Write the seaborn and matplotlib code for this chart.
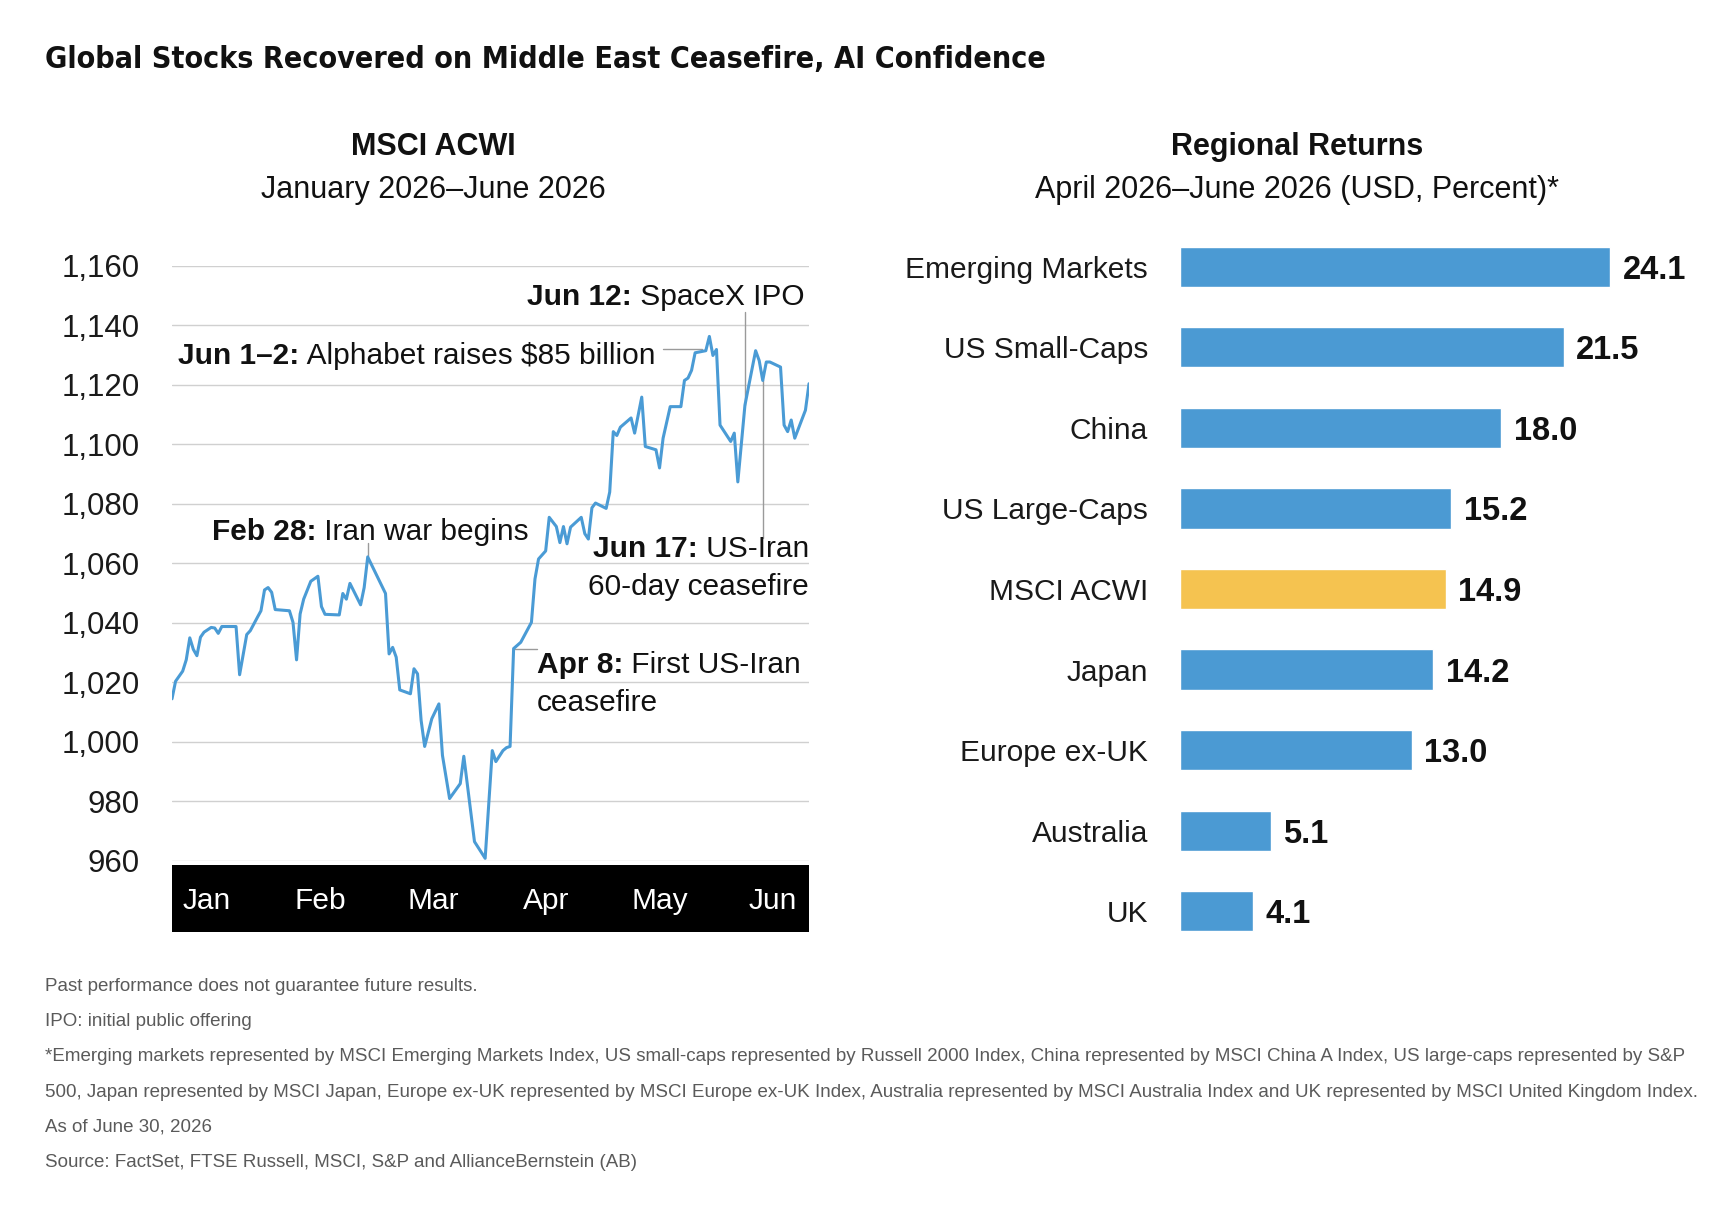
import matplotlib
matplotlib.use("Agg")
import matplotlib.pyplot as plt
from matplotlib import font_manager as fm
import seaborn as sns
import pandas as pd

# ---------------- data ----------------
title = "Global Stocks Recovered on Middle East Ceasefire, AI Confidence"

acwi_dates = [
    "2026-01-02", "2026-01-03", "2026-01-05", "2026-01-06", "2026-01-07", "2026-01-08",
    "2026-01-09", "2026-01-10", "2026-01-11", "2026-01-13", "2026-01-14", "2026-01-15",
    "2026-01-16", "2026-01-20", "2026-01-21", "2026-01-23", "2026-01-24", "2026-01-26",
    "2026-01-27", "2026-01-28", "2026-01-29", "2026-01-30", "2026-01-31", "2026-02-04",
    "2026-02-05", "2026-02-06", "2026-02-07", "2026-02-08", "2026-02-10", "2026-02-12",
    "2026-02-13", "2026-02-14", "2026-02-18", "2026-02-19", "2026-02-20", "2026-02-21",
    "2026-02-24", "2026-02-25", "2026-02-26", "2026-03-03", "2026-03-04", "2026-03-05",
    "2026-03-06", "2026-03-07", "2026-03-10", "2026-03-11", "2026-03-12", "2026-03-13",
    "2026-03-14", "2026-03-16", "2026-03-18", "2026-03-19", "2026-03-21", "2026-03-24",
    "2026-03-25", "2026-03-28", "2026-03-31", "2026-04-02", "2026-04-03", "2026-04-05",
    "2026-04-06", "2026-04-07", "2026-04-08", "2026-04-10", "2026-04-13", "2026-04-14",
    "2026-04-15", "2026-04-17", "2026-04-18", "2026-04-20", "2026-04-21", "2026-04-22",
    "2026-04-23", "2026-04-24", "2026-04-27", "2026-04-28", "2026-04-29", "2026-04-30",
    "2026-05-01", "2026-05-04", "2026-05-05", "2026-05-06", "2026-05-07", "2026-05-08",
    "2026-05-11", "2026-05-12", "2026-05-14", "2026-05-15", "2026-05-18", "2026-05-19",
    "2026-05-20", "2026-05-22", "2026-05-25", "2026-05-26", "2026-05-27", "2026-05-28",
    "2026-05-29", "2026-06-01", "2026-06-02", "2026-06-03", "2026-06-04", "2026-06-05",
    "2026-06-08", "2026-06-09", "2026-06-10", "2026-06-12", "2026-06-15", "2026-06-16",
    "2026-06-17", "2026-06-18", "2026-06-19", "2026-06-22", "2026-06-23", "2026-06-24",
    "2026-06-25", "2026-06-26", "2026-06-29", "2026-06-30",
]
acwi_values = [
    1014.4, 1020.3, 1023.7, 1027.5, 1034.9, 1031.0,
    1028.9, 1035.1, 1036.8, 1038.4, 1038.2, 1036.4,
    1038.7, 1038.7, 1022.5, 1036.0, 1037.3, 1041.8,
    1044.0, 1051.0, 1051.8, 1050.2, 1044.4, 1044.0,
    1040.1, 1027.5, 1042.9, 1047.9, 1053.9, 1055.6,
    1045.4, 1042.8, 1042.6, 1049.8, 1047.9, 1053.2,
    1046.0, 1051.8, 1062.1, 1049.8, 1029.5, 1031.7,
    1028.4, 1017.4, 1016.1, 1024.5, 1022.8, 1007.2,
    998.4, 1007.7, 1012.7, 995.4, 980.9, 985.9,
    995.1, 966.4, 960.8, 997.0, 993.3, 997.0,
    998.0, 998.4, 1031.3, 1033.4, 1040.1, 1054.7,
    1061.4, 1064.1, 1075.4, 1072.3, 1066.9, 1072.3,
    1066.5, 1072.1, 1075.4, 1069.9, 1068.1, 1078.6,
    1080.2, 1078.4, 1083.9, 1104.2, 1102.9, 1105.7,
    1108.8, 1103.7, 1115.8, 1099.2, 1098.1, 1092.0,
    1102.0, 1112.6, 1112.6, 1121.4, 1122.2, 1124.8,
    1130.7, 1131.4, 1136.2, 1129.8, 1131.8, 1106.4,
    1100.9, 1103.7, 1087.3, 1113.1, 1131.4, 1128.1,
    1121.4, 1127.6, 1127.6, 1125.9, 1106.4, 1104.2,
    1108.1, 1102.0, 1111.4, 1120.3,
]
y_ticks = [960, 980, 1000, 1020, 1040, 1060, 1080, 1100, 1120, 1140, 1160]
months = ["Jan", "Feb", "Mar", "Apr", "May", "Jun"]

regions = ["Emerging Markets", "US Small-Caps", "China", "US Large-Caps",
           "MSCI ACWI", "Japan", "Europe ex-UK", "Australia", "UK"]
returns = [24.1, 21.5, 18.0, 15.2, 14.9, 14.2, 13.0, 5.1, 4.1]
highlight = "MSCI ACWI"

footnotes = [
    "Past performance does not guarantee future results.",
    "IPO: initial public offering",
    "*Emerging markets represented by MSCI Emerging Markets Index, US small-caps represented by Russell 2000 Index, "
    "China represented by MSCI China A Index, US large-caps represented by S&P",
    "500, Japan represented by MSCI Japan, Europe ex-UK represented by MSCI Europe ex-UK Index, Australia represented "
    "by MSCI Australia Index and UK represented by MSCI United Kingdom Index.",
    "As of June 30, 2026",
    "Source: FactSet, FTSE Russell, MSCI, S&P and AllianceBernstein (AB)",
]

# ---------------- style ----------------
sns.set_theme(style="white")
plt.rcParams["font.family"] = ["Liberation Sans", "DejaVu Sans"]
plt.rcParams["text.color"] = "#111111"

BLUE = "#4A9BD5"
BAR_BLUE = "#4B9AD3"
YELLOW = "#F5C350"
GRID = "#d0d0d0"
CONN = "#9a9a9a"
FS = 21.5
TITLE_W = 1004  # target headline width in pixels


def _weight(w):
    if isinstance(w, str):
        return fm.weight_dict.get(w.lower(), 400)
    return int(w)


# bold condensed face for the headline, from a short preference list
preferred = ["DejaVuSansCondensed-Bold", "LiberationSansNarrow-Bold"]
title_file = None
files = [f.fname for f in fm.fontManager.ttflist]
for key in preferred:
    for fn in files:
        if key in fn:
            title_file = fn
            break
    if title_file:
        break

W, H = 1728, 1224
fig = plt.figure(figsize=(W / 100, H / 100), dpi=100)
fig.patch.set_facecolor("white")
renderer = fig.canvas.get_renderer()


def frac(left, top, right, bottom):
    return [left / W, 1 - bottom / H, (right - left) / W, (bottom - top) / H]


# ---------------- titles ----------------
if title_file:
    t_title = fig.text(45 / W, 1 - 60 / H, title, fontproperties=fm.FontProperties(fname=title_file),
                       va="center", ha="left")
else:
    t_title = fig.text(45 / W, 1 - 60 / H, title, fontweight="bold", va="center", ha="left")
t_title.set_size(25)
tw = t_title.get_window_extent(renderer).width
t_title.set_size(min(30, 25 * TITLE_W / tw))

fig.text(433 / W, 1 - 147 / H, "MSCI ACWI", fontweight="bold", size=22, ha="center", va="center")
fig.text(433 / W, 1 - 190 / H, "January 2026\u2013June 2026", size=22, ha="center", va="center")
fig.text(1297 / W, 1 - 147 / H, "Regional Returns", fontweight="bold", size=22, ha="center", va="center")
fig.text(1297 / W, 1 - 190 / H, "April 2026\u2013June 2026 (USD, Percent)*", size=22,
         ha="center", va="center")

# ---------------- line chart ----------------
ax = fig.add_axes(frac(172, 265.6, 809, 860.7))
df_line = pd.DataFrame({"date": pd.to_datetime(acwi_dates), "value": acwi_values})
sns.lineplot(data=df_line, x="date", y="value", ax=ax, color=BLUE, linewidth=2.2, zorder=3)
ax.set_xlim(pd.Timestamp("2026-01-02"), pd.Timestamp("2026-06-30"))
ax.set_ylim(y_ticks[0], y_ticks[-1])
ax.set_yticks(y_ticks)
ax.set_yticklabels([f"{v:,}" for v in y_ticks])
ax.tick_params(axis="y", length=0, pad=23, labelsize=22.5, labelcolor="#1a1a1a")
ax.set_xticks([])
ax.set_xlabel("")
ax.set_ylabel("")
ax.grid(axis="y", color=GRID, linewidth=1.0)
ax.set_axisbelow(True)
for s in ax.spines.values():
    s.set_visible(False)


def ts(s):
    return pd.Timestamp(s)


# connectors
ax.plot([ts("2026-02-26")] * 2, [1062.5, 1066.8], color=CONN, lw=1.0, zorder=2)
ax.plot([ts("2026-06-12")] * 2, [1113.1, 1144.3], color=CONN, lw=1.0, zorder=2)
ax.plot([ts("2026-05-20"), ts("2026-05-31")], [1132, 1132], color=CONN, lw=1.0, zorder=2)
ax.plot([ts("2026-04-08 12:00"), ts("2026-04-14 12:00")], [1031.3, 1031.3], color=CONN, lw=1.0, zorder=2)
ax.plot([ts("2026-06-17")] * 2, [1121.4, 1068.5], color=CONN, lw=1.0, zorder=2)

tr = ax.get_yaxis_transform()


def label_left(x, y, bold, regular):
    t = ax.text(x, y, bold, transform=tr, fontweight="bold", size=FS, ha="left", va="baseline", zorder=5)
    ax.annotate(" " + regular, xy=(1, 0), xycoords=t, ha="left", va="bottom", size=FS, zorder=5)
    return t


def label_right(x, y, bold, regular):
    t = ax.text(x, y, " " + regular, transform=tr, size=FS, ha="right", va="baseline", zorder=5)
    ax.annotate(bold, xy=(0, 0), xycoords=t, ha="right", va="bottom", size=FS,
                fontweight="bold", zorder=5)
    return t


label_right(0.993, 1146.6, "Jun 12:", "SpaceX IPO")
label_left(0.0102, 1127.0, "Jun 1\u20132:", "Alphabet raises $85 billion")
label_left(0.0622, 1067.8, "Feb 28:", "Iran war begins")
label_right(1.0, 1062.1, "Jun 17:", "US-Iran")
ax.text(1.0, 1049.2, "60-day ceasefire", transform=tr, size=FS, ha="right", va="baseline")
label_left(0.5725, 1023.2, "Apr 8:", "First US-Iran")
ax.text(0.5725, 1010.2, "ceasefire", transform=tr, size=FS, ha="left", va="baseline")

# month band
band = fig.add_axes(frac(172, 865, 809, 932))
band.set_facecolor("black")
band.set_xticks([])
band.set_yticks([])
for s in band.spines.values():
    s.set_visible(False)
for i, m in enumerate(months):
    band.text(0.055 + 0.1776 * i, 0.46, m, color="white", size=FS, ha="center", va="center",
              transform=band.transAxes)

# ---------------- bar chart ----------------
axb = fig.add_axes(frac(1180, 226.4, 1700, 951.5))
df_bar = pd.DataFrame({"region": regions, "ret": returns})
colors = [YELLOW if r == highlight else BAR_BLUE for r in regions]
sns.barplot(data=df_bar, x="ret", y="region", hue="region", palette=colors, legend=False,
            ax=axb, width=0.5, orient="h", saturation=1)
for c in axb.containers:
    lbls = axb.bar_label(c, fmt="%.1f", padding=9, fontweight="bold", size=23.5, color="#111111")
    for lb in lbls:
        lb.set_va("center_baseline")
axb.set_xlim(0, 520 / 17.84)
axb.set_ylim(8.5, -0.5)
axb.set_xticks([])
axb.set_xlabel("")
axb.set_ylabel("")
axb.tick_params(axis="y", length=0, pad=23, labelsize=FS, labelcolor="#1a1a1a")
for s in axb.spines.values():
    s.set_visible(False)

# ---------------- footnotes ----------------
for i, line in enumerate(footnotes):
    fig.text(45 / W, 1 - (986.3 + 35.26 * i) / H, line, size=13.5, color="#5a5a5a",
             ha="left", va="center")

fig.savefig("out.png", dpi=100, facecolor="white")
